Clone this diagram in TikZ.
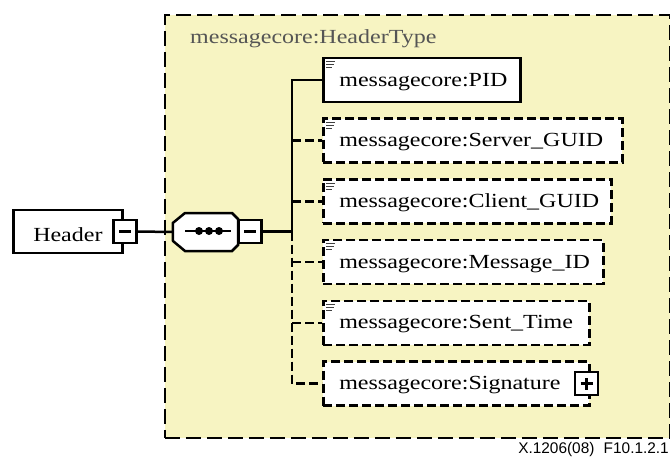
\documentclass[tikz,border=0pt]{standalone}
\usepackage{fontspec}
\setmainfont{Liberation Serif}[FakeStretch=1.2]
\newfontfamily\footfont{Liberation Sans}
\definecolor{ybg}{RGB}{247,244,194}
\definecolor{lblgray}{RGB}{85,85,85}
\begin{document}
\begin{tikzpicture}[x=1pt,y=-1pt,
  every node/.style={font=\fontsize{20}{24}\selectfont},
  frame/.style={draw=black, line width=2.5pt, fill=white},
  optframe/.style={frame, dash pattern=on 9pt off 4pt},
  child/.style={anchor=west, minimum height=44pt, inner xsep=16pt, inner ysep=0pt,
     text height=12pt, text depth=0pt, align=left},
  conn/.style={draw=black, line width=2.5pt},
  optconn/.style={conn, dash pattern=on 9pt off 4pt},
  pm/.style={frame, minimum size=23pt, inner sep=0pt},
  icon/.style={draw=black!75, line width=1pt},
]
\useasboundingbox (0,0) rectangle (670,456);
% outer type box
\node[draw=black, line width=2.5pt, fill=ybg, dash pattern=on 15pt off 6pt,
      anchor=north west, minimum width=505pt, minimum height=423pt, inner sep=0pt] (type) at (163.5,13.5) {};
\node[anchor=base west, inner sep=0pt, text=lblgray] (typelbl) at (190,43) {messagecore:HeaderType};

% Header element
\node[frame, anchor=west, minimum height=43pt, text width=69pt, inner xsep=20pt, inner ysep=0pt,
      text height=19pt, text depth=0pt, align=left] (header) at (12,231.5) {Header};
\node[pm] (hmin) at (125,231.5) {};
\draw[conn] ([xshift=-6pt]hmin.center) -- ([xshift=6pt]hmin.center);

% sequence compositor
\node[minimum width=65pt, minimum height=38pt, inner sep=0pt] (seq) at (205.5,232) {};
\draw[frame] (seq.west |- 0,223) -- (185,213) -- (232,213) -- (238,219) -- (238,245) -- (232,251)
   -- (185,251) -- (173,241) -- cycle;
\draw[conn] (185,231) -- (231,231);
\foreach \x in {199,209,219} \fill (\x,231) circle (4pt);
\node[pm] (smin) at (250,231.5) {};
\draw[conn] ([xshift=-6pt]smin.center) -- ([xshift=6pt]smin.center);

\draw[conn] (hmin.east) -- (seq.west);
\coordinate (trunk) at (292,231.5);
\draw[conn] (smin.east) -- (trunk);

% children
\node[frame, child, text width=165pt, line width=2.8pt] (pid) at (322,80) {messagecore:PID};
\node[optframe, child, text width=267pt] (srv) at (322,140.7) {messagecore:Server\_GUID};
\node[optframe, child, text width=256pt] (cli) at (322,201.4) {messagecore:Client\_GUID};
\node[optframe, child, text width=248pt] (msg) at (322,262.1) {messagecore:Message\_ID};
\node[optframe, child, text width=234pt] (sent) at (322,322.8) {messagecore:Sent\_Time};
\node[optframe, child, text width=234pt] (sig) at (322,383.5) {messagecore:Signature};
\node[pm] (sigplus) at (586.5,383.5) {};
\draw[conn] ([xshift=-6pt]sigplus.center) -- ([xshift=6pt]sigplus.center);
\draw[conn] ([yshift=-6pt]sigplus.center) -- ([yshift=6pt]sigplus.center);

% icons
\foreach \n in {pid,srv,cli,msg,sent} {
  \draw[icon] ([shift={(4pt,-5pt)}]\n.north west) -- ++(9,0);
  \draw[icon] ([shift={(4pt,-8pt)}]\n.north west) -- ++(8,0);
  \draw[icon] ([shift={(4pt,-11pt)}]\n.north west) -- ++(6,0);
}

% connectors
\draw[conn] (trunk) |- (pid.west);
\draw[optconn] (trunk) |- (sig.west);
\foreach \n in {srv,cli,msg,sent} \draw[optconn] (trunk |- \n.west) -- (\n.west);

\node[anchor=base east, inner sep=0pt, font=\footfont\fontsize{15.4}{17}\selectfont] (foot) at (669,453) {X.1206(08)\hspace{0.6em}F10.1.2.1};
\end{tikzpicture}
\end{document}
